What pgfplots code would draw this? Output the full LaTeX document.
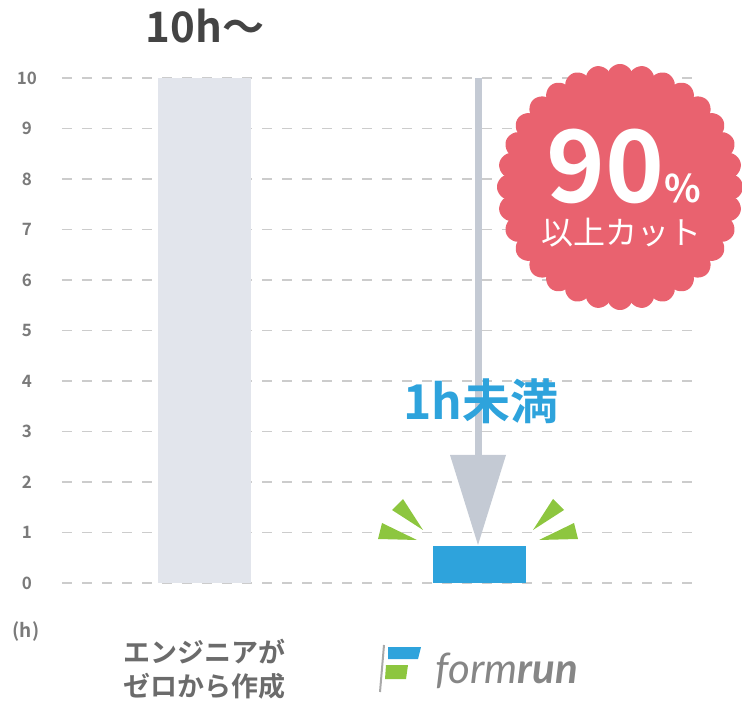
\documentclass[border=0pt]{standalone}
\usepackage{fontspec}
\setmainfont{Noto Sans CJK JP}[BoldFont={Noto Sans CJK JP Bold}]
\newfontfamily\latofont{Lato}
\usepackage{pgfplots}
\pgfplotsset{compat=1.18}
\definecolor{barGray}{HTML}{E2E5EC}
\definecolor{barBlue}{HTML}{2EA3DC}
\definecolor{arrowGray}{HTML}{C4CAD4}
\definecolor{badgeRed}{HTML}{E9626F}
\definecolor{burstGreen}{HTML}{8DC63F}
\definecolor{gridGray}{HTML}{CCCCCC}
\definecolor{tickGray}{HTML}{7A7A7A}
\definecolor{catGray}{HTML}{6B6B6B}
\definecolor{darkText}{HTML}{444444}
\definecolor{logoGray}{HTML}{868686}
\begin{document}
\begin{tikzpicture}
\useasboundingbox (0,0) rectangle (742pt,702pt);
\begin{axis}[
  at={(62pt,119pt)}, anchor=south west,
  scale only axis, width=633pt, height=505pt,
  xmin=-0.5164, xmax=1.785, ymin=0, ymax=10,
  axis line style={draw=none}, tick style={draw=none},
  ytick={0,...,10}, xtick={0,1},
  xticklabels={{エンジニアが\\ゼロから作成},
    {\rule{0pt}{44pt}\hspace*{56pt}{\latofont\mdseries\fontsize{42}{42}\selectfont\color{logoGray}\itshape form{\bfseries run}}}},
  ymajorgrids,
  grid style={gridGray, line width=1.3pt, dash pattern=on 10pt off 10pt},
  /pgf/number format/assume math mode=true,
  yticklabel style={font=\bfseries\fontsize{17}{17}\selectfont, text=tickGray, anchor=center, xshift=-35pt},
  xticklabel style={anchor=north, yshift=-56pt, align=center, font=\bfseries\fontsize{27}{34}\selectfont, text=catGray, inner sep=0pt},
  clip=false,
  ylabel={(h)},
  every axis y label/.style={at={(rel axis cs:0,0)}, anchor=center, xshift=-36pt, yshift=-49pt, font=\bfseries\fontsize{19}{19}\selectfont, text=tickGray},
]
\addplot[ybar, bar width=93pt, bar shift=0pt, fill=barGray, draw=none] coordinates {(0,10)};
\addplot[ybar, bar width=93pt, bar shift=0pt, fill=barBlue, draw=none] coordinates {(1,0.73)};
\end{axis}
\begin{scope}[x=1pt, y=-1pt, shift={(0,-702)}]
  % arrow
  \draw[arrowGray, line width=7pt] (478,78) -- (478,460);
  \fill[arrowGray] (450,455) -- (506,455) -- (478,545) -- cycle;
  \node[anchor=base, text=barBlue, font=\bfseries\fontsize{48}{48}\selectfont, inner sep=0pt] at (481,420) {1h未満};
  \node[anchor=base, text=darkText, font=\bfseries\fontsize{42}{42}\selectfont, inner sep=0pt] at (205,43) {10h〜};
  % badge
  \begin{scope}[shift={(620,187)}]
    \fill[badgeRed] plot[domain=0:360, samples=1153] (\x:{116pt+7pt*(abs(cos(16*\x)))^0.7}) -- cycle;
  \end{scope}
  \node[anchor=base, text=white, inner sep=0pt] at (624,203)
    {{\bfseries\fontsize{100}{100}\selectfont 90}{\bfseries\fontsize{38}{38}\selectfont\%}};
  \node[anchor=center, text=white, font=\fontsize{32}{32}\selectfont] at (621,233) {以上カット};
  % green bursts
  \fill[burstGreen] (403,499) -- (392,510) -- (423,530) -- cycle;
  \fill[burstGreen] (382,523) -- (378,539) -- (417,540) -- cycle;
  \fill[burstGreen] (553,499) -- (564,510) -- (533,530) -- cycle;
  \fill[burstGreen] (574,523) -- (578,539) -- (539,540) -- cycle;
  % formrun flag
  \draw[logoGray!70, line width=2pt] (384,645) -- (380,692);
  \fill[barBlue] (388,647) -- (421,647) -- (418,659) -- (388,659) -- cycle;
  \fill[burstGreen] (386,665) -- (408,665) -- (406,679) -- (385,679) -- cycle;
\end{scope}
\end{tikzpicture}
\end{document}
